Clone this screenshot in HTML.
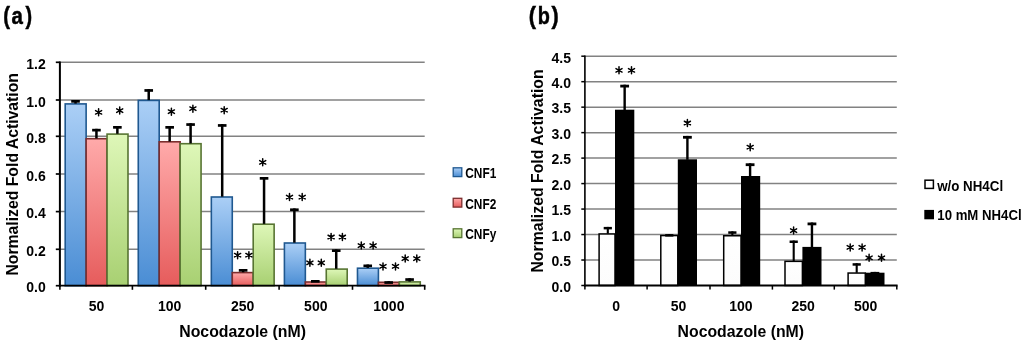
<!DOCTYPE html><html><head><meta charset="utf-8"><style>html,body{margin:0;padding:0;background:#fff;}svg{display:block;font-family:"Liberation Sans", sans-serif;will-change:transform;}</style></head><body>
<svg width="1024" height="346" viewBox="0 0 1024 346">
<rect width="1024" height="346" fill="#fff"/>
<defs><linearGradient id="gb" x1="0" y1="0" x2="0" y2="1"><stop offset="0" stop-color="#abcff6"/><stop offset="1" stop-color="#4a8dd4"/></linearGradient><linearGradient id="gr" x1="0" y1="0" x2="0" y2="1"><stop offset="0" stop-color="#ffaaaa"/><stop offset="1" stop-color="#e65c5c"/></linearGradient><linearGradient id="gg" x1="0" y1="0" x2="0" y2="1"><stop offset="0" stop-color="#def7b8"/><stop offset="1" stop-color="#a8d072"/></linearGradient><linearGradient id="gw" x1="0" y1="0" x2="0" y2="1"><stop offset="0" stop-color="#ffffff"/><stop offset="1" stop-color="#fcfcfc"/></linearGradient></defs>
<line x1="59.90" y1="62.30" x2="424.70" y2="62.30" stroke="#828282" stroke-width="1.5"/>
<line x1="59.90" y1="100.00" x2="424.70" y2="100.00" stroke="#828282" stroke-width="1.5"/>
<line x1="59.90" y1="136.30" x2="424.70" y2="136.30" stroke="#828282" stroke-width="1.5"/>
<line x1="59.90" y1="174.00" x2="424.70" y2="174.00" stroke="#828282" stroke-width="1.5"/>
<line x1="59.90" y1="211.60" x2="424.70" y2="211.60" stroke="#828282" stroke-width="1.5"/>
<line x1="59.90" y1="249.30" x2="424.70" y2="249.30" stroke="#828282" stroke-width="1.5"/>
<line x1="55.80" y1="62.30" x2="59.90" y2="62.30" stroke="#000" stroke-width="1.7"/>
<text x="45.8" y="68.90" font-size="14" font-weight="bold" text-anchor="end">1.2</text>
<line x1="55.80" y1="100.00" x2="59.90" y2="100.00" stroke="#000" stroke-width="1.7"/>
<text x="45.8" y="106.60" font-size="14" font-weight="bold" text-anchor="end">1.0</text>
<line x1="55.80" y1="136.30" x2="59.90" y2="136.30" stroke="#000" stroke-width="1.7"/>
<text x="45.8" y="142.90" font-size="14" font-weight="bold" text-anchor="end">0.8</text>
<line x1="55.80" y1="174.00" x2="59.90" y2="174.00" stroke="#000" stroke-width="1.7"/>
<text x="45.8" y="180.60" font-size="14" font-weight="bold" text-anchor="end">0.6</text>
<line x1="55.80" y1="211.60" x2="59.90" y2="211.60" stroke="#000" stroke-width="1.7"/>
<text x="45.8" y="218.20" font-size="14" font-weight="bold" text-anchor="end">0.4</text>
<line x1="55.80" y1="249.30" x2="59.90" y2="249.30" stroke="#000" stroke-width="1.7"/>
<text x="45.8" y="255.90" font-size="14" font-weight="bold" text-anchor="end">0.2</text>
<line x1="55.80" y1="285.70" x2="59.90" y2="285.70" stroke="#000" stroke-width="1.7"/>
<text x="45.8" y="292.30" font-size="14" font-weight="bold" text-anchor="end">0.0</text>
<rect x="65.20" y="103.90" width="20.93" height="181.80" fill="url(#gb)" stroke="#1f5890" stroke-width="1.6"/>
<rect x="86.13" y="138.70" width="20.93" height="147.00" fill="url(#gr)" stroke="#7c2e2e" stroke-width="1.6"/>
<rect x="107.06" y="134.10" width="20.93" height="151.60" fill="url(#gg)" stroke="#577432" stroke-width="1.6"/>
<rect x="138.27" y="100.40" width="20.93" height="185.30" fill="url(#gb)" stroke="#1f5890" stroke-width="1.6"/>
<rect x="159.20" y="141.80" width="20.93" height="143.90" fill="url(#gr)" stroke="#7c2e2e" stroke-width="1.6"/>
<rect x="180.13" y="143.70" width="20.93" height="142.00" fill="url(#gg)" stroke="#577432" stroke-width="1.6"/>
<rect x="211.34" y="197.00" width="20.93" height="88.70" fill="url(#gb)" stroke="#1f5890" stroke-width="1.6"/>
<rect x="232.27" y="272.60" width="20.93" height="13.10" fill="url(#gr)" stroke="#7c2e2e" stroke-width="1.6"/>
<rect x="253.20" y="224.20" width="20.93" height="61.50" fill="url(#gg)" stroke="#577432" stroke-width="1.6"/>
<rect x="284.41" y="243.00" width="20.93" height="42.70" fill="url(#gb)" stroke="#1f5890" stroke-width="1.6"/>
<rect x="305.34" y="282.00" width="20.93" height="3.70" fill="url(#gr)" stroke="#7c2e2e" stroke-width="1.6"/>
<rect x="326.27" y="269.10" width="20.93" height="16.60" fill="url(#gg)" stroke="#577432" stroke-width="1.6"/>
<rect x="357.48" y="268.20" width="20.93" height="17.50" fill="url(#gb)" stroke="#1f5890" stroke-width="1.6"/>
<rect x="378.41" y="282.30" width="20.93" height="3.40" fill="url(#gr)" stroke="#7c2e2e" stroke-width="1.6"/>
<rect x="399.34" y="281.90" width="20.93" height="3.80" fill="url(#gg)" stroke="#577432" stroke-width="1.6"/>
<rect x="74.27" y="100.00" width="2.5" height="3.60" fill="#000"/>
<rect x="71.22" y="100.00" width="8.6" height="2.7" fill="#000"/>
<rect x="95.19" y="128.80" width="2.5" height="9.60" fill="#000"/>
<rect x="92.14" y="128.80" width="8.6" height="2.7" fill="#000"/>
<rect x="116.12" y="126.00" width="2.5" height="7.80" fill="#000"/>
<rect x="113.08" y="126.00" width="8.6" height="2.7" fill="#000"/>
<rect x="147.48" y="89.10" width="2.5" height="11.00" fill="#000"/>
<rect x="144.43" y="89.10" width="8.6" height="2.7" fill="#000"/>
<rect x="168.41" y="126.00" width="2.5" height="15.50" fill="#000"/>
<rect x="165.36" y="126.00" width="8.6" height="2.7" fill="#000"/>
<rect x="189.34" y="123.20" width="2.5" height="20.20" fill="#000"/>
<rect x="186.29" y="123.20" width="8.6" height="2.7" fill="#000"/>
<rect x="220.95" y="124.10" width="2.5" height="72.60" fill="#000"/>
<rect x="217.90" y="124.10" width="8.6" height="2.7" fill="#000"/>
<rect x="241.88" y="269.00" width="2.5" height="3.30" fill="#000"/>
<rect x="238.83" y="269.00" width="8.6" height="2.7" fill="#000"/>
<rect x="262.81" y="177.00" width="2.5" height="46.90" fill="#000"/>
<rect x="259.76" y="177.00" width="8.6" height="2.7" fill="#000"/>
<rect x="293.12" y="208.40" width="2.5" height="34.30" fill="#000"/>
<rect x="290.07" y="208.40" width="8.6" height="2.7" fill="#000"/>
<rect x="314.05" y="280.00" width="2.5" height="1.70" fill="#000"/>
<rect x="311.00" y="280.00" width="8.6" height="2.7" fill="#000"/>
<rect x="334.98" y="249.30" width="2.5" height="19.50" fill="#000"/>
<rect x="331.93" y="249.30" width="8.6" height="2.7" fill="#000"/>
<rect x="366.49" y="264.50" width="2.5" height="3.40" fill="#000"/>
<rect x="363.44" y="264.50" width="8.6" height="2.7" fill="#000"/>
<rect x="387.42" y="281.20" width="2.5" height="0.80" fill="#000"/>
<rect x="384.37" y="281.20" width="8.6" height="2.7" fill="#000"/>
<rect x="408.35" y="278.20" width="2.5" height="3.40" fill="#000"/>
<rect x="405.30" y="278.20" width="8.6" height="2.7" fill="#000"/>
<line x1="59.90" y1="61.50" x2="59.90" y2="286.70" stroke="#000" stroke-width="2"/>
<line x1="58.90" y1="285.70" x2="425.50" y2="285.70" stroke="#000" stroke-width="1.8"/>
<line x1="59.90" y1="285.70" x2="59.90" y2="289.80" stroke="#000" stroke-width="1.6"/>
<line x1="132.40" y1="285.70" x2="132.40" y2="289.80" stroke="#000" stroke-width="1.6"/>
<line x1="205.70" y1="285.70" x2="205.70" y2="289.80" stroke="#000" stroke-width="1.6"/>
<line x1="279.10" y1="285.70" x2="279.10" y2="289.80" stroke="#000" stroke-width="1.6"/>
<line x1="352.50" y1="285.70" x2="352.50" y2="289.80" stroke="#000" stroke-width="1.6"/>
<line x1="424.70" y1="285.70" x2="424.70" y2="289.80" stroke="#000" stroke-width="1.6"/>
<path d="M98.60 115.80L98.60 108.80M95.57 114.05L101.63 110.55M101.63 114.05L95.57 110.55" stroke="#000" stroke-width="1.5" stroke-linecap="round" fill="none"/>
<circle cx="98.60" cy="112.30" r="1.25" fill="#000"/>
<path d="M119.70 114.10L119.70 107.10M116.67 112.35L122.73 108.85M122.73 112.35L116.67 108.85" stroke="#000" stroke-width="1.5" stroke-linecap="round" fill="none"/>
<circle cx="119.70" cy="110.60" r="1.25" fill="#000"/>
<path d="M171.40 115.20L171.40 108.20M168.37 113.45L174.43 109.95M174.43 113.45L168.37 109.95" stroke="#000" stroke-width="1.5" stroke-linecap="round" fill="none"/>
<circle cx="171.40" cy="111.70" r="1.25" fill="#000"/>
<path d="M192.90 112.20L192.90 105.20M189.87 110.45L195.93 106.95M195.93 110.45L189.87 106.95" stroke="#000" stroke-width="1.5" stroke-linecap="round" fill="none"/>
<circle cx="192.90" cy="108.70" r="1.25" fill="#000"/>
<path d="M224.20 113.70L224.20 106.70M221.17 111.95L227.23 108.45M227.23 111.95L221.17 108.45" stroke="#000" stroke-width="1.5" stroke-linecap="round" fill="none"/>
<circle cx="224.20" cy="110.20" r="1.25" fill="#000"/>
<path d="M237.60 258.70L237.60 251.70M234.57 256.95L240.63 253.45M240.63 256.95L234.57 253.45" stroke="#000" stroke-width="1.5" stroke-linecap="round" fill="none"/>
<circle cx="237.60" cy="255.20" r="1.25" fill="#000"/>
<path d="M248.90 258.70L248.90 251.70M245.87 256.95L251.93 253.45M251.93 256.95L245.87 253.45" stroke="#000" stroke-width="1.5" stroke-linecap="round" fill="none"/>
<circle cx="248.90" cy="255.20" r="1.25" fill="#000"/>
<path d="M262.70 165.80L262.70 158.80M259.67 164.05L265.73 160.55M265.73 164.05L259.67 160.55" stroke="#000" stroke-width="1.5" stroke-linecap="round" fill="none"/>
<circle cx="262.70" cy="162.30" r="1.25" fill="#000"/>
<path d="M289.50 200.60L289.50 193.60M286.47 198.85L292.53 195.35M292.53 198.85L286.47 195.35" stroke="#000" stroke-width="1.5" stroke-linecap="round" fill="none"/>
<circle cx="289.50" cy="197.10" r="1.25" fill="#000"/>
<path d="M302.20 200.60L302.20 193.60M299.17 198.85L305.23 195.35M305.23 198.85L299.17 195.35" stroke="#000" stroke-width="1.5" stroke-linecap="round" fill="none"/>
<circle cx="302.20" cy="197.10" r="1.25" fill="#000"/>
<path d="M309.90 266.30L309.90 259.30M306.87 264.55L312.93 261.05M312.93 264.55L306.87 261.05" stroke="#000" stroke-width="1.5" stroke-linecap="round" fill="none"/>
<circle cx="309.90" cy="262.80" r="1.25" fill="#000"/>
<path d="M321.30 266.30L321.30 259.30M318.27 264.55L324.33 261.05M324.33 264.55L318.27 261.05" stroke="#000" stroke-width="1.5" stroke-linecap="round" fill="none"/>
<circle cx="321.30" cy="262.80" r="1.25" fill="#000"/>
<path d="M331.10 240.50L331.10 233.50M328.07 238.75L334.13 235.25M334.13 238.75L328.07 235.25" stroke="#000" stroke-width="1.5" stroke-linecap="round" fill="none"/>
<circle cx="331.10" cy="237.00" r="1.25" fill="#000"/>
<path d="M342.40 240.50L342.40 233.50M339.37 238.75L345.43 235.25M345.43 238.75L339.37 235.25" stroke="#000" stroke-width="1.5" stroke-linecap="round" fill="none"/>
<circle cx="342.40" cy="237.00" r="1.25" fill="#000"/>
<path d="M361.30 249.10L361.30 242.10M358.27 247.35L364.33 243.85M364.33 247.35L358.27 243.85" stroke="#000" stroke-width="1.5" stroke-linecap="round" fill="none"/>
<circle cx="361.30" cy="245.60" r="1.25" fill="#000"/>
<path d="M373.10 249.10L373.10 242.10M370.07 247.35L376.13 243.85M376.13 247.35L370.07 243.85" stroke="#000" stroke-width="1.5" stroke-linecap="round" fill="none"/>
<circle cx="373.10" cy="245.60" r="1.25" fill="#000"/>
<path d="M383.00 269.90L383.00 262.90M379.97 268.15L386.03 264.65M386.03 268.15L379.97 264.65" stroke="#000" stroke-width="1.5" stroke-linecap="round" fill="none"/>
<circle cx="383.00" cy="266.40" r="1.25" fill="#000"/>
<path d="M395.50 269.90L395.50 262.90M392.47 268.15L398.53 264.65M398.53 268.15L392.47 264.65" stroke="#000" stroke-width="1.5" stroke-linecap="round" fill="none"/>
<circle cx="395.50" cy="266.40" r="1.25" fill="#000"/>
<path d="M405.20 262.10L405.20 255.10M402.17 260.35L408.23 256.85M408.23 260.35L402.17 256.85" stroke="#000" stroke-width="1.5" stroke-linecap="round" fill="none"/>
<circle cx="405.20" cy="258.60" r="1.25" fill="#000"/>
<path d="M416.80 262.10L416.80 255.10M413.77 260.35L419.83 256.85M419.83 260.35L413.77 256.85" stroke="#000" stroke-width="1.5" stroke-linecap="round" fill="none"/>
<circle cx="416.80" cy="258.60" r="1.25" fill="#000"/>
<text x="96.59" y="311.2" font-size="14" font-weight="bold" text-anchor="middle">50</text>
<text x="169.66" y="311.2" font-size="14" font-weight="bold" text-anchor="middle">100</text>
<text x="242.73" y="311.2" font-size="14" font-weight="bold" text-anchor="middle">250</text>
<text x="315.80" y="311.2" font-size="14" font-weight="bold" text-anchor="middle">500</text>
<text x="388.87" y="311.2" font-size="14" font-weight="bold" text-anchor="middle">1000</text>
<text x="3.29" y="23.6" font-size="24.8" font-weight="bold" text-anchor="start" textLength="6.73" lengthAdjust="spacingAndGlyphs" stroke="#000" stroke-width="0.5">(</text>
<text x="11.5" y="23.6" font-size="24.8" font-weight="bold" text-anchor="start" textLength="11.39" lengthAdjust="spacingAndGlyphs" stroke="#000" stroke-width="0.5">a</text>
<text x="25.58" y="23.6" font-size="24.8" font-weight="bold" text-anchor="start" textLength="6.61" lengthAdjust="spacingAndGlyphs" stroke="#000" stroke-width="0.5">)</text>
<text x="242.6" y="336.7" font-size="16.5" font-weight="bold" text-anchor="middle" textLength="126.7" lengthAdjust="spacingAndGlyphs">Nocodazole (nM)</text>
<text transform="translate(17.9 174.3) rotate(-90)" x="0" y="0" font-size="16.5" font-weight="bold" text-anchor="middle" textLength="202.6" lengthAdjust="spacingAndGlyphs">Normalized Fold Activation</text>
<rect x="453.2" y="167.80" width="8.6" height="8.8" fill="url(#gb)" stroke="#1f5890" stroke-width="1.3"/>
<text x="465.3" y="178.20" font-size="14" font-weight="bold" text-anchor="start" textLength="31" lengthAdjust="spacingAndGlyphs">CNF1</text>
<rect x="453.2" y="198.30" width="8.6" height="8.8" fill="url(#gr)" stroke="#7c2e2e" stroke-width="1.3"/>
<text x="465.3" y="208.70" font-size="14" font-weight="bold" text-anchor="start" textLength="31" lengthAdjust="spacingAndGlyphs">CNF2</text>
<rect x="453.2" y="228.80" width="8.6" height="8.8" fill="url(#gg)" stroke="#577432" stroke-width="1.3"/>
<text x="465.3" y="239.20" font-size="14" font-weight="bold" text-anchor="start" textLength="31" lengthAdjust="spacingAndGlyphs">CNFy</text>
<line x1="584.90" y1="56.20" x2="896.80" y2="56.20" stroke="#828282" stroke-width="1.5"/>
<line x1="584.90" y1="81.68" x2="896.80" y2="81.68" stroke="#828282" stroke-width="1.5"/>
<line x1="584.90" y1="107.16" x2="896.80" y2="107.16" stroke="#828282" stroke-width="1.5"/>
<line x1="584.90" y1="132.63" x2="896.80" y2="132.63" stroke="#828282" stroke-width="1.5"/>
<line x1="584.90" y1="158.11" x2="896.80" y2="158.11" stroke="#828282" stroke-width="1.5"/>
<line x1="584.90" y1="183.59" x2="896.80" y2="183.59" stroke="#828282" stroke-width="1.5"/>
<line x1="584.90" y1="209.07" x2="896.80" y2="209.07" stroke="#828282" stroke-width="1.5"/>
<line x1="584.90" y1="234.54" x2="896.80" y2="234.54" stroke="#828282" stroke-width="1.5"/>
<line x1="584.90" y1="260.02" x2="896.80" y2="260.02" stroke="#828282" stroke-width="1.5"/>
<line x1="581.30" y1="56.20" x2="584.90" y2="56.20" stroke="#000" stroke-width="1.5"/>
<text x="571.0" y="62.50" font-size="14" font-weight="bold" text-anchor="end">4.5</text>
<line x1="581.30" y1="81.68" x2="584.90" y2="81.68" stroke="#000" stroke-width="1.5"/>
<text x="571.0" y="87.98" font-size="14" font-weight="bold" text-anchor="end">4.0</text>
<line x1="581.30" y1="107.16" x2="584.90" y2="107.16" stroke="#000" stroke-width="1.5"/>
<text x="571.0" y="113.46" font-size="14" font-weight="bold" text-anchor="end">3.5</text>
<line x1="581.30" y1="132.63" x2="584.90" y2="132.63" stroke="#000" stroke-width="1.5"/>
<text x="571.0" y="138.93" font-size="14" font-weight="bold" text-anchor="end">3.0</text>
<line x1="581.30" y1="158.11" x2="584.90" y2="158.11" stroke="#000" stroke-width="1.5"/>
<text x="571.0" y="164.41" font-size="14" font-weight="bold" text-anchor="end">2.5</text>
<line x1="581.30" y1="183.59" x2="584.90" y2="183.59" stroke="#000" stroke-width="1.5"/>
<text x="571.0" y="189.89" font-size="14" font-weight="bold" text-anchor="end">2.0</text>
<line x1="581.30" y1="209.07" x2="584.90" y2="209.07" stroke="#000" stroke-width="1.5"/>
<text x="571.0" y="215.37" font-size="14" font-weight="bold" text-anchor="end">1.5</text>
<line x1="581.30" y1="234.54" x2="584.90" y2="234.54" stroke="#000" stroke-width="1.5"/>
<text x="571.0" y="240.84" font-size="14" font-weight="bold" text-anchor="end">1.0</text>
<line x1="581.30" y1="260.02" x2="584.90" y2="260.02" stroke="#000" stroke-width="1.5"/>
<text x="571.0" y="266.32" font-size="14" font-weight="bold" text-anchor="end">0.5</text>
<line x1="581.30" y1="285.50" x2="584.90" y2="285.50" stroke="#000" stroke-width="1.5"/>
<text x="571.0" y="291.80" font-size="14" font-weight="bold" text-anchor="end">0.0</text>
<rect x="599.10" y="233.95" width="15.90" height="51.55" fill="url(#gw)" stroke="#000" stroke-width="1.5"/>
<rect x="615.00" y="109.70" width="19.30" height="175.80" fill="#000"/>
<rect x="660.80" y="235.55" width="17.00" height="49.95" fill="url(#gw)" stroke="#000" stroke-width="1.5"/>
<rect x="677.80" y="159.30" width="19.20" height="126.20" fill="#000"/>
<rect x="723.70" y="235.75" width="17.30" height="49.75" fill="url(#gw)" stroke="#000" stroke-width="1.5"/>
<rect x="741.00" y="176.00" width="19.20" height="109.50" fill="#000"/>
<rect x="785.00" y="261.35" width="17.40" height="24.15" fill="url(#gw)" stroke="#000" stroke-width="1.5"/>
<rect x="802.40" y="246.90" width="19.10" height="38.60" fill="#000"/>
<rect x="848.10" y="273.05" width="17.20" height="12.45" fill="url(#gw)" stroke="#000" stroke-width="1.5"/>
<rect x="865.30" y="272.70" width="19.20" height="12.80" fill="#000"/>
<rect x="606.75" y="226.90" width="2.1" height="6.80" fill="#000"/>
<rect x="603.70" y="226.90" width="8.2" height="2.5" fill="#000"/>
<rect x="623.45" y="84.70" width="2.4" height="25.50" fill="#000"/>
<rect x="620.25" y="84.70" width="8.8" height="2.8" fill="#000"/>
<rect x="668.25" y="234.10" width="2.1" height="1.20" fill="#000"/>
<rect x="665.20" y="234.10" width="8.2" height="2.5" fill="#000"/>
<rect x="686.20" y="135.90" width="2.4" height="23.90" fill="#000"/>
<rect x="683.00" y="135.90" width="8.8" height="2.8" fill="#000"/>
<rect x="731.30" y="231.30" width="2.1" height="4.20" fill="#000"/>
<rect x="728.25" y="231.30" width="8.2" height="2.5" fill="#000"/>
<rect x="748.90" y="163.30" width="2.4" height="13.20" fill="#000"/>
<rect x="745.70" y="163.30" width="8.8" height="2.8" fill="#000"/>
<rect x="792.65" y="240.50" width="2.1" height="20.60" fill="#000"/>
<rect x="789.60" y="240.50" width="8.2" height="2.5" fill="#000"/>
<rect x="810.75" y="222.50" width="2.4" height="24.90" fill="#000"/>
<rect x="807.55" y="222.50" width="8.8" height="2.8" fill="#000"/>
<rect x="855.65" y="263.20" width="2.1" height="9.60" fill="#000"/>
<rect x="852.60" y="263.20" width="8.2" height="2.5" fill="#000"/>
<rect x="873.70" y="271.90" width="2.4" height="1.30" fill="#000"/>
<rect x="870.50" y="271.90" width="8.8" height="2.8" fill="#000"/>
<line x1="584.90" y1="55.40" x2="584.90" y2="286.50" stroke="#000" stroke-width="1.6"/>
<line x1="583.90" y1="285.50" x2="897.60" y2="285.50" stroke="#000" stroke-width="1.8"/>
<line x1="584.90" y1="285.50" x2="584.90" y2="289.60" stroke="#000" stroke-width="1.5"/>
<line x1="647.10" y1="285.50" x2="647.10" y2="289.60" stroke="#000" stroke-width="1.5"/>
<line x1="710.00" y1="285.50" x2="710.00" y2="289.60" stroke="#000" stroke-width="1.5"/>
<line x1="772.40" y1="285.50" x2="772.40" y2="289.60" stroke="#000" stroke-width="1.5"/>
<line x1="834.30" y1="285.50" x2="834.30" y2="289.60" stroke="#000" stroke-width="1.5"/>
<line x1="896.80" y1="285.50" x2="896.80" y2="289.60" stroke="#000" stroke-width="1.5"/>
<path d="M619.00 73.80L619.00 66.80M615.97 72.05L622.03 68.55M622.03 72.05L615.97 68.55" stroke="#000" stroke-width="1.5" stroke-linecap="round" fill="none"/>
<circle cx="619.00" cy="70.30" r="1.25" fill="#000"/>
<path d="M631.50 73.80L631.50 66.80M628.47 72.05L634.53 68.55M634.53 72.05L628.47 68.55" stroke="#000" stroke-width="1.5" stroke-linecap="round" fill="none"/>
<circle cx="631.50" cy="70.30" r="1.25" fill="#000"/>
<path d="M687.40 126.50L687.40 119.50M684.37 124.75L690.43 121.25M690.43 124.75L684.37 121.25" stroke="#000" stroke-width="1.5" stroke-linecap="round" fill="none"/>
<circle cx="687.40" cy="123.00" r="1.25" fill="#000"/>
<path d="M750.20 150.70L750.20 143.70M747.17 148.95L753.23 145.45M753.23 148.95L747.17 145.45" stroke="#000" stroke-width="1.5" stroke-linecap="round" fill="none"/>
<circle cx="750.20" cy="147.20" r="1.25" fill="#000"/>
<path d="M793.60 234.10L793.60 227.10M790.57 232.35L796.63 228.85M796.63 232.35L790.57 228.85" stroke="#000" stroke-width="1.5" stroke-linecap="round" fill="none"/>
<circle cx="793.60" cy="230.60" r="1.25" fill="#000"/>
<path d="M850.20 250.90L850.20 243.90M847.17 249.15L853.23 245.65M853.23 249.15L847.17 245.65" stroke="#000" stroke-width="1.5" stroke-linecap="round" fill="none"/>
<circle cx="850.20" cy="247.40" r="1.25" fill="#000"/>
<path d="M862.10 250.90L862.10 243.90M859.07 249.15L865.13 245.65M865.13 249.15L859.07 245.65" stroke="#000" stroke-width="1.5" stroke-linecap="round" fill="none"/>
<circle cx="862.10" cy="247.40" r="1.25" fill="#000"/>
<path d="M869.10 261.30L869.10 254.30M866.07 259.55L872.13 256.05M872.13 259.55L866.07 256.05" stroke="#000" stroke-width="1.5" stroke-linecap="round" fill="none"/>
<circle cx="869.10" cy="257.80" r="1.25" fill="#000"/>
<path d="M881.50 261.30L881.50 254.30M878.47 259.55L884.53 256.05M884.53 259.55L878.47 256.05" stroke="#000" stroke-width="1.5" stroke-linecap="round" fill="none"/>
<circle cx="881.50" cy="257.80" r="1.25" fill="#000"/>
<text x="616.09" y="311.0" font-size="14" font-weight="bold" text-anchor="middle">0</text>
<text x="678.47" y="311.0" font-size="14" font-weight="bold" text-anchor="middle">50</text>
<text x="740.85" y="311.0" font-size="14" font-weight="bold" text-anchor="middle">100</text>
<text x="803.23" y="311.0" font-size="14" font-weight="bold" text-anchor="middle">250</text>
<text x="865.61" y="311.0" font-size="14" font-weight="bold" text-anchor="middle">500</text>
<text x="528.82" y="23.6" font-size="24.8" font-weight="bold" text-anchor="start" textLength="7.21" lengthAdjust="spacingAndGlyphs" stroke="#000" stroke-width="0.5">(</text>
<text x="537.7" y="23.6" font-size="24.8" font-weight="bold" text-anchor="start" textLength="12.12" lengthAdjust="spacingAndGlyphs" stroke="#000" stroke-width="0.5">b</text>
<text x="551.58" y="23.6" font-size="24.8" font-weight="bold" text-anchor="start" textLength="7.2" lengthAdjust="spacingAndGlyphs" stroke="#000" stroke-width="0.5">)</text>
<text x="740.8" y="336.8" font-size="16.5" font-weight="bold" text-anchor="middle" textLength="126.4" lengthAdjust="spacingAndGlyphs">Nocodazole (nM)</text>
<text transform="translate(543.0 171.0) rotate(-90)" x="0" y="0" font-size="16.5" font-weight="bold" text-anchor="middle" textLength="203.2" lengthAdjust="spacingAndGlyphs">Normalized Fold Activation</text>
<rect x="925.0" y="180.2" width="8.4" height="8.2" fill="#fff" stroke="#000" stroke-width="1.5"/>
<text x="937.2" y="190.8" font-size="14" font-weight="bold" text-anchor="start" textLength="65.9" lengthAdjust="spacingAndGlyphs">w/o NH4Cl</text>
<rect x="924.3" y="209.9" width="9.7" height="9.4" fill="#000"/>
<text x="937.3" y="220.3" font-size="14" font-weight="bold" text-anchor="start" textLength="84.3" lengthAdjust="spacingAndGlyphs">10 mM NH4Cl</text>
</svg></body></html>
